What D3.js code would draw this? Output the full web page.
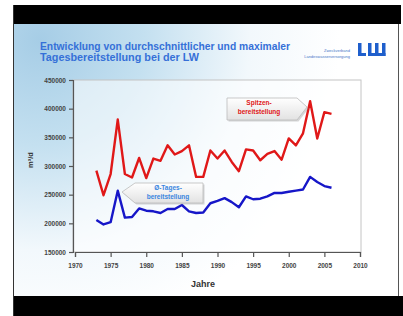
<!DOCTYPE html>
<html>
<head>
<meta charset="utf-8">
<script src="https://cdn.jsdelivr.net/npm/d3@7"></script>
<style>
  body { margin: 0; background: #fff; }
  text { font-family: "Liberation Sans", Arial, sans-serif; }
</style>
</head>
<body>
<div id="chart"></div>
<script>
// values
var years = [1973,1974,1975,1976,1977,1978,1979,1980,1981,1982,1983,1984,1985,1986,1987,1988,1989,
             1990,1991,1992,1993,1994,1995,1996,1997,1998,1999,2000,2001,2002,2003,2004,2005,2006];
var spitzen = [292000,249000,286000,381000,286000,280000,314000,279000,313000,309000,336000,320000,326000,336000,281000,281000,327000,
               313000,327000,307000,291000,329000,327000,310000,321000,326000,311000,348000,336000,357000,413000,348000,394000,391000];
var tages = [206000,198000,202000,257000,210000,211000,226000,222000,221000,218000,225000,225000,232000,221000,218000,219000,235000,
             239000,244000,237000,228000,247000,242000,243000,247000,253000,253000,255000,257000,259000,281000,272000,265000,262000];
var yTicks = [150000,200000,250000,300000,350000,400000,450000];
var xTicks = [1970,1975,1980,1985,1990,1995,2000,2005,2010];
var titleLines = ["Entwicklung von durchschnittlicher und maximaler", "Tagesbereitstellung bei der LW"];

var cfg = { width: 403, height: 316 };

var svg = d3.select("#chart").append("svg")
    .attr("width", cfg.width)
    .attr("height", cfg.height);

var defs = svg.append("defs");
var sky = defs.append("radialGradient").attr("id", "sky")
    .attr("gradientUnits", "userSpaceOnUse")
    .attr("cx", 40).attr("cy", 40).attr("r", 300);
sky.append("stop").attr("offset", "0%").attr("stop-color", "#a6cde6");
sky.append("stop").attr("offset", "35%").attr("stop-color", "#c4e0f0");
sky.append("stop").attr("offset", "70%").attr("stop-color", "#f2f8fc");
sky.append("stop").attr("offset", "100%").attr("stop-color", "#ffffff");

var box = defs.append("linearGradient").attr("id", "box").attr("x1", 0).attr("y1", 0).attr("x2", 0).attr("y2", 1);
box.append("stop").attr("offset", "0%").attr("stop-color", "#ffffff");
box.append("stop").attr("offset", "100%").attr("stop-color", "#e2e2e2");

// slide frame
svg.append("rect").attr("x", 13).attr("y", 5).attr("width", 388).attr("height", 19).attr("fill", "#000");
svg.append("rect").attr("x", 13).attr("y", 296).attr("width", 390).attr("height", 20).attr("fill", "#000");
svg.append("rect").attr("x", 14).attr("y", 24).attr("width", 384).attr("height", 272).attr("fill", "url(#sky)");
svg.append("line").attr("x1", 13.5).attr("x2", 13.5).attr("y1", 5).attr("y2", 316).style("stroke", "#333");
svg.append("line").attr("x1", 398.5).attr("x2", 398.5).attr("y1", 24).attr("y2", 296).style("stroke", "#555");

// title
svg.selectAll(".title").data(titleLines).enter()
    .append("text")
    .attr("class", "title")
    .attr("x", 40)
    .attr("y", function(d, i) { return 50 + i * 11; })
    .attr("textLength", function(d, i) { return i == 0 ? 250 : 159; })
    .attr("lengthAdjust", "spacingAndGlyphs")
    .style("font-size", "10px")
    .style("font-weight", "bold")
    .style("fill", "#3570d8")
    .text(function(d) { return d; });

// logo
svg.append("text").attr("x", 350).attr("y", 52).attr("text-anchor", "end")
    .style("font-size", "4px").style("fill", "#4a78c8").text("Zweckverband");
svg.append("text").attr("x", 350).attr("y", 58).attr("text-anchor", "end")
    .style("font-size", "4px").style("fill", "#4a78c8").text("Landeswasserversorgung");
var logo = svg.append("g").style("fill", "#1f5fcc");
[358, 368, 375, 382].forEach(function(x) {
  logo.append("rect").attr("x", x).attr("y", 43).attr("width", 3.5).attr("height", 13);
});
logo.append("rect").attr("x", 358).attr("y", 53).attr("width", 8).attr("height", 3);
logo.append("rect").attr("x", 368).attr("y", 53).attr("width", 17.5).attr("height", 3);

// plot
var x = d3.scaleLinear().domain([1970, 2010]).range([75, 360]);
var y = d3.scaleLinear().domain([150000, 450000]).range([252, 80]);

svg.append("rect").attr("x", 73).attr("y", 80).attr("width", 288).attr("height", 172)
    .attr("fill", "#fff").attr("fill-opacity", 0.55)
    .style("stroke", "#c4c4c4");

var yAxis = svg.append("g").attr("transform", "translate(73,0)")
    .call(d3.axisLeft(y).tickValues(yTicks).tickSize(4).tickFormat(d3.format("d")));
var xAxis = svg.append("g").attr("transform", "translate(0,252)")
    .call(d3.axisBottom(x).tickValues(xTicks).tickSize(5).tickFormat(d3.format("d")));
[yAxis, xAxis].forEach(function(a) {
  a.select(".domain").style("stroke", "#555").style("stroke-width", 1.2);
  a.selectAll(".tick line").style("stroke", "#555").style("stroke-width", 1.2);
  a.selectAll(".tick text")
    .style("font-size", "6.5px").style("font-weight", "bold").style("fill", "#444")
    .style("font-family", "Liberation Sans, Arial, sans-serif");
});
xAxis.selectAll(".tick text").attr("dy", "1.3em");

svg.append("text").attr("x", 203).attr("y", 287).attr("text-anchor", "middle")
    .style("font-size", "9px").style("font-weight", "bold").style("fill", "#333").text("Jahre");
svg.append("text").attr("transform", "translate(33,160) rotate(-90)").attr("text-anchor", "middle")
    .style("font-size", "7.5px").style("font-weight", "bold").style("fill", "#333").text("m³/d");

var line = function(vals) {
  return d3.line().x(function(d, i) { return x(years[i]); }).y(function(d) { return y(d); })(vals);
};
svg.append("path").attr("d", line(spitzen))
    .style("fill", "none").style("stroke", "#e01818").style("stroke-width", 2.4).style("stroke-linejoin", "round");
svg.append("path").attr("d", line(tages))
    .style("fill", "none").style("stroke", "#1616c8").style("stroke-width", 2.4).style("stroke-linejoin", "round");

// callouts
var callouts = [
  { pts: [[227,98],[297,98],[307,107],[297,120],[227,120]], cx: 259, lines: ["Spitzen-", "bereitstellung"], ty: 105, color: "#e01818" },
  { pts: [[122,192],[135,183],[203,183],[203,203],[135,203]], cx: 168, lines: ["Ø-Tages-", "bereitstellung"], ty: 190, color: "#3a86e0" }
];
callouts.forEach(function(c) {
  var g = svg.append("g");
  g.append("polygon").attr("points", c.pts.map(function(p) { return (p[0]+1.5) + "," + (p[1]+1.5); }).join(" "))
      .style("fill", "#999").style("opacity", 0.4);
  g.append("polygon").attr("points", c.pts.map(function(p) { return p.join(","); }).join(" "))
      .style("fill", "url(#box)").style("stroke", "#bbb").style("stroke-width", 0.8);
  g.selectAll("text").data(c.lines).enter().append("text")
      .attr("x", c.cx).attr("y", function(d, i) { return c.ty + i * 9; })
      .attr("text-anchor", "middle")
      .style("font-size", "6.5px").style("font-weight", "bold").style("fill", c.color)
      .text(function(d) { return d; });
});
</script>
</body>
</html>
